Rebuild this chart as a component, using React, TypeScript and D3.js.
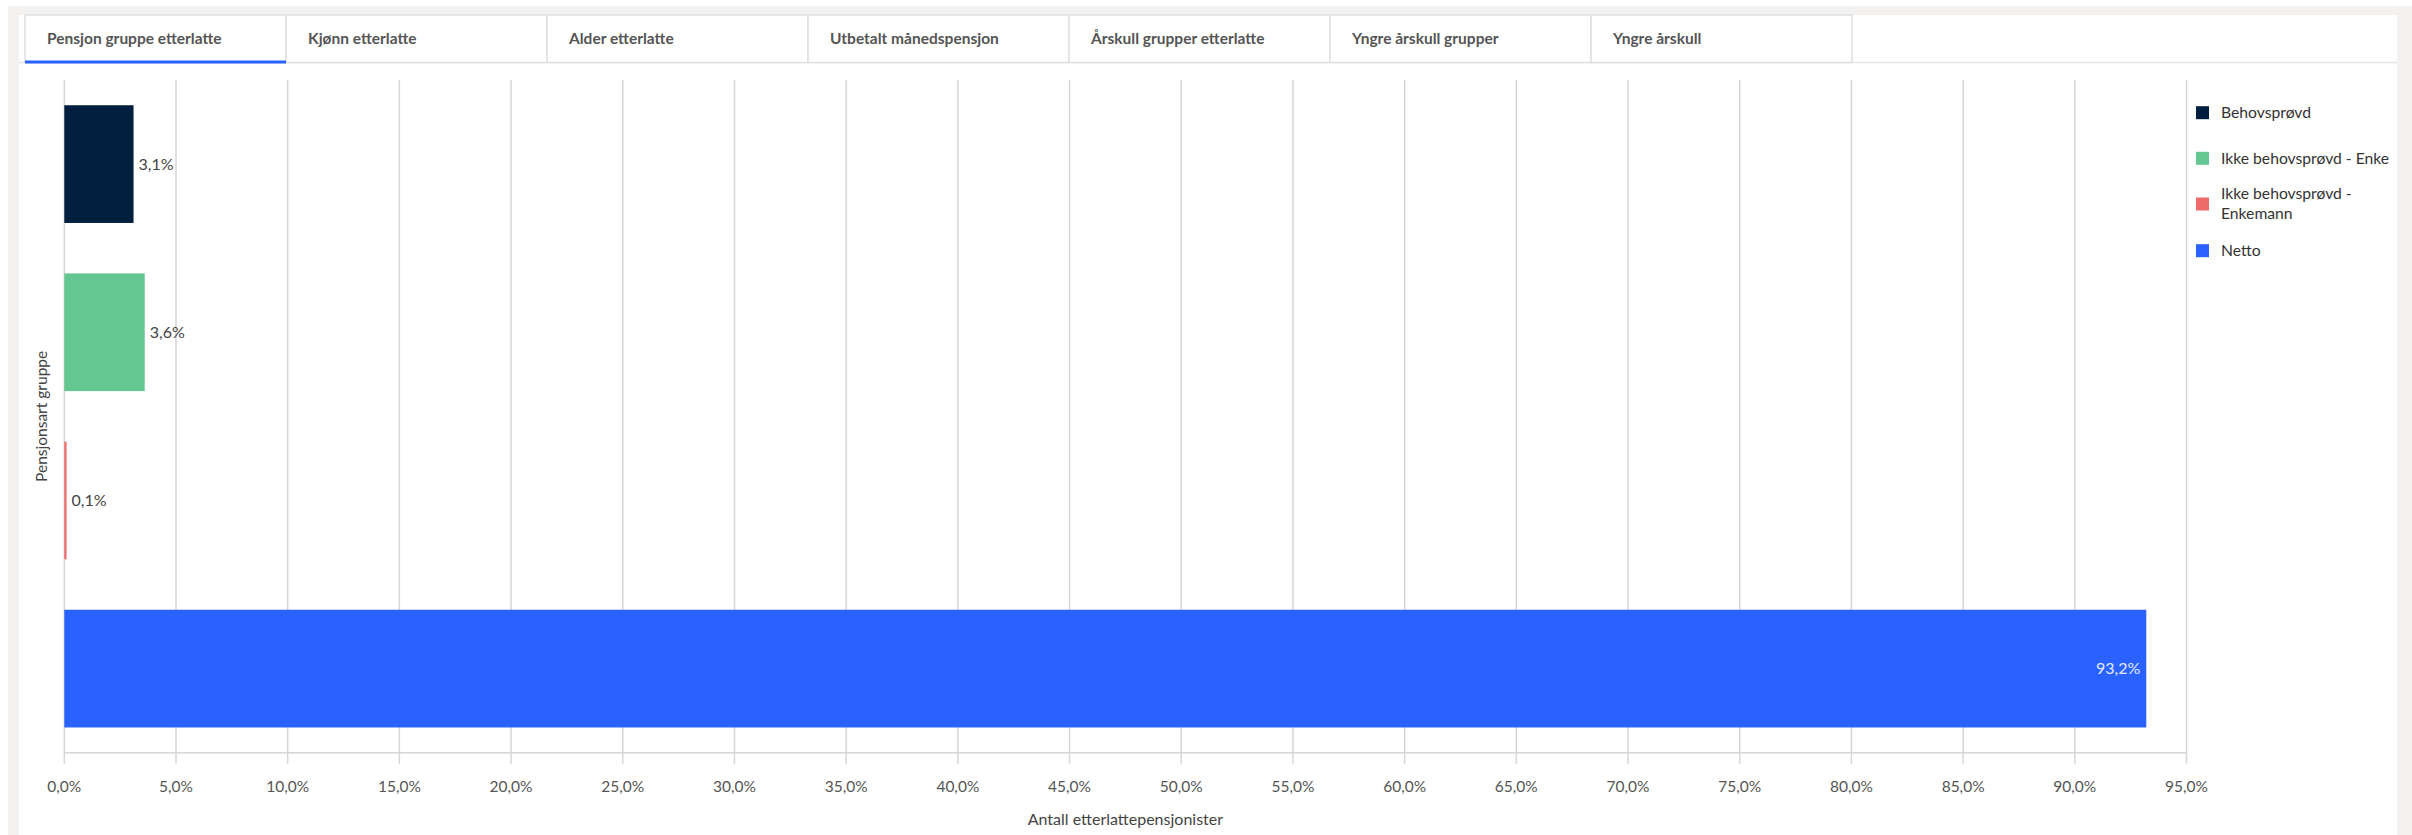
import React, { useEffect } from "react";
import * as d3 from "d3";

const tabs = [
  "Pensjon gruppe etterlatte",
  "Kjønn etterlatte",
  "Alder etterlatte",
  "Utbetalt månedspensjon",
  "Årskull grupper etterlatte",
  "Yngre årskull grupper",
  "Yngre årskull",
];
const categories = ["Behovsprøvd", "Ikke behovsprøvd - Enke", "Ikke behovsprøvd - Enkemann", "Netto"];
const legendLines = [["Behovsprøvd"], ["Ikke behovsprøvd - Enke"], ["Ikke behovsprøvd -", "Enkemann"], ["Netto"]];
const values = [3.1, 3.6, 0.1, 93.2];
const colors = ["#001e3d", "#64c792", "#ee6b6b", "#2962ff"];
const xTicks = [0, 5, 10, 15, 20, 25, 30, 35, 40, 45, 50, 55, 60, 65, 70, 75, 80, 85, 90, 95];
const xTitle = "Antall etterlattepensjonister";
const yTitle = "Pensjonsart gruppe";

const W = 2412;
const H = 835;
const FONT = "Lato, 'Open Sans', sans-serif";

const loc = d3.formatLocale({ decimal: ",", thousands: " ", grouping: [3], currency: ["", " kr"] });
const f1 = loc.format(".1f");
const pct = (v: number) => `${f1(v)}%`;

export default function App() {
  useEffect(() => {
    document.body.style.margin = "0";
  }, []);

  const x = d3.scaleLinear().domain([0, 95]).range([64.3, 2186.5]);
  const y = d3.scaleBand<string>().domain(categories).range([80, 752.7]).paddingInner(0.3).paddingOuter(0.15);
  const axisY = 752.7;
  const tabX = d3.scaleLinear().domain([0, 1]).range([25, 286]);
  const tabW = tabX(1) - tabX(0);

  const legendY = [112.7, 158.3, 204, 250.7];

  return (
    <svg width={W} height={H} style={{ display: "block", fontFamily: FONT }}>
      <rect x={0} y={0} width={W} height={H} fill="#ffffff" />
      <rect x={8} y={6} width={W - 8} height={H - 6} fill="#f3f2f1" />
      <rect x={19} y={15} width={2397 - 19} height={H - 15} fill="#ffffff" />
      {/* tabs */}
      <line x1={19} x2={2397} y1={62.5} y2={62.5} stroke="#e6e6e6" strokeWidth={1.5} />
      {tabs.map((t, i) => (
        <g key={t}>
          <rect x={tabX(i)} y={15} width={tabW} height={47.5} fill="#ffffff" stroke="#e0e0e0" strokeWidth={1.5} />
          <text x={tabX(i) + 22} y={39} dy="0.35em" fontSize={15.5} fontWeight={700} fill="#555555">
            {t}
          </text>
        </g>
      ))}
      <rect x={tabX(0)} y={60.5} width={tabW} height={3} fill="#2962ff" />

      {/* grid */}
      {xTicks.map((t) => (
        <g key={t}>
          <line x1={x(t)} x2={x(t)} y1={80} y2={axisY + 11} stroke="#d6d6d6" strokeWidth={1.5} />
          <text x={x(t)} y={787} dy="0.35em" textAnchor="middle" fontSize={15.5} fill="#555555">
            {pct(t)}
          </text>
        </g>
      ))}
      <line x1={x(0)} x2={x(95)} y1={axisY} y2={axisY} stroke="#d6d6d6" strokeWidth={1.5} />

      {/* bars */}
      {categories.map((c, i) => {
        const v = values[i];
        const by = y(c)!;
        const bw = x(v) - x(0);
        const inside = v > 50;
        return (
          <g key={c}>
            <rect x={x(0)} y={by} width={bw} height={y.bandwidth()} fill={colors[i]} />
            <text
              x={inside ? x(v) - 6 : x(v) + 5}
              y={by + y.bandwidth() / 2}
              dy="0.35em"
              textAnchor={inside ? "end" : "start"}
              fontSize={16}
              fill={inside ? "#e3eaff" : "#444444"}
            >
              {pct(v)}
            </text>
          </g>
        );
      })}

      {/* axis titles */}
      <text x={(x(0) + x(95)) / 2} y={819} dy="0.35em" textAnchor="middle" fontSize={16} fill="#444444">
        {xTitle}
      </text>
      <text
        transform={`translate(42, ${(80 + axisY) / 2}) rotate(-90)`}
        dy="0.35em"
        textAnchor="middle"
        fontSize={15.5}
        fill="#444444"
      >
        {yTitle}
      </text>

      {/* legend */}
      {categories.map((c, i) => (
        <g key={c}>
          <rect x={2196} y={legendY[i] - 6.5} width={13} height={13} fill={colors[i]} />
          {legendLines[i].map((ln, j) => (
            <text
              key={ln}
              x={2221}
              y={legendY[i] + (j - (legendLines[i].length - 1) / 2) * 20}
              dy="0.35em"
              fontSize={15.7}
              fill="#333333"
            >
              {ln}
            </text>
          ))}
        </g>
      ))}
    </svg>
  );
}
